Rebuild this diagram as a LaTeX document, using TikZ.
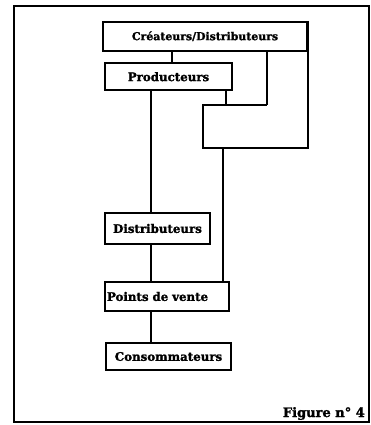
\documentclass[tikz,border=0pt]{standalone}
\usepackage{fontspec}
\setmainfont{DejaVu Serif}
\newfontfamily\heavyfont{DejaVu Serif Bold}[FakeBold=1.6]
\begin{document}
\begin{tikzpicture}[x=1pt,y=-1pt,
  box/.style={draw, line width=1.6pt, inner sep=0pt, font=\heavyfont\fontsize{11.8}{13}\selectfont},
  link/.style={line width=1.4pt},
  frame/.style={line width=2.2pt},
  caption/.style={inner sep=0pt, font=\heavyfont\fontsize{13}{15}\selectfont}]
\useasboundingbox (0,0) rectangle (371,425);
\draw[frame] (14,6) rectangle (369,422);
\node[box, minimum width=204pt, minimum height=29pt, font=\heavyfont\fontsize{10.9}{12}\selectfont] (cre) at (205,36.3) {Créateurs/Distributeurs};
\node[box, minimum width=127pt, minimum height=27pt] (prod) at (168.5,76.7) {Producteurs};
\node[box, minimum width=105pt, minimum height=31pt] (dist) at (157.5,228.5) {Distributeurs};
\node[box, minimum height=29pt, text width=120pt, inner xsep=2pt, align=left] (pdv) at (167,296.5) {Points de vente};
\node[box, minimum width=125pt, minimum height=27pt] (cons) at (168.5,356.5) {Consommateurs};
\node[caption, anchor=base east] (fig) at (365,417) {Figure n° 4};
\coordinate (xa) at (172,0);
\coordinate (xb) at (267,0);
\coordinate (xc) at (226,0);
\coordinate (xm) at (151,0);
\coordinate (j1) at (267,105);
\coordinate (jl) at (203,105);
\coordinate (bl) at (203,148);
\coordinate (drop) at (223,148);
\draw[link] (xa |- cre.south) -- (xa |- prod.north);
\draw[link] (xb |- cre.south) -- (j1);
\draw[link] (xc |- prod.south) -- (xc |- j1);
\draw[link] (cre.north east) -- (cre.north east |- bl) -- (bl) -- (jl) -- (j1);
\draw[link] (drop) -- (drop |- pdv.north);
\draw[link] (xm |- prod.south) -- (xm |- dist.north);
\draw[link] (xm |- dist.south) -- (xm |- pdv.north);
\draw[link] (xm |- pdv.south) -- (xm |- cons.north);
\end{tikzpicture}
\end{document}
